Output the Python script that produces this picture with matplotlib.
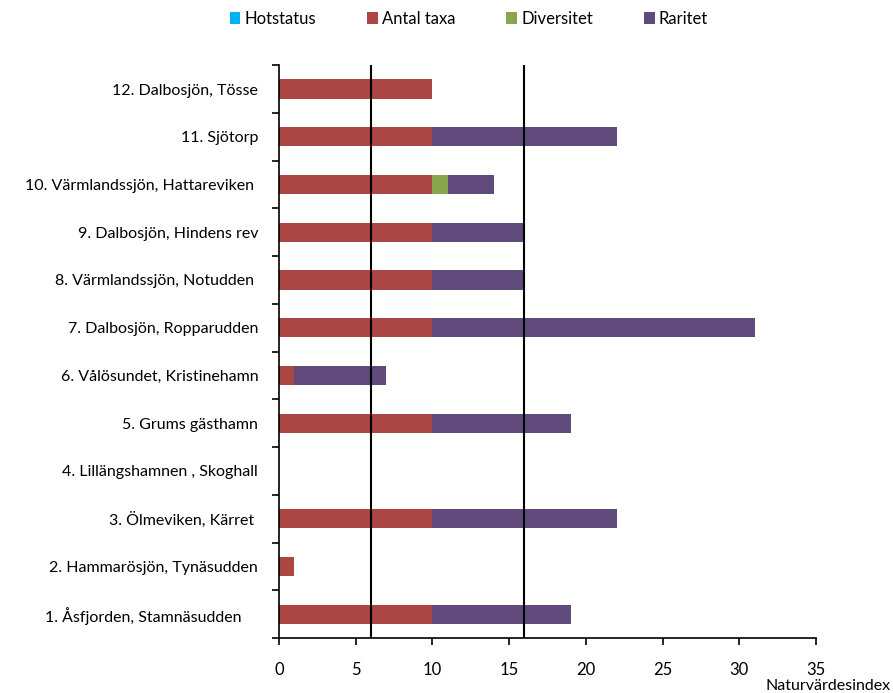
import matplotlib.pyplot as plt
import numpy as np

plt.rcParams["font.family"] = ["Lato", "DejaVu Sans"]

sites = [
    "1. Åsfjorden, Stamnäsudden    ",
    "2. Hammarösjön, Tynäsudden",
    "3. Ölmeviken, Kärret ",
    "4. Lillängshamnen , Skoghall",
    "5. Grums gästhamn",
    "6. Vålösundet, Kristinehamn",
    "7. Dalbosjön, Ropparudden",
    "8. Värmlandssjön, Notudden ",
    "9. Dalbosjön, Hindens rev",
    "10. Värmlandssjön, Hattareviken ",
    "11. Sjötorp",
    "12. Dalbosjön, Tösse",
]
hotstatus = [0, 0, 0, 0, 0, 0, 0, 0, 0, 0, 0, 0]
antal_taxa = [10, 1, 10, 0, 10, 1, 10, 10, 10, 10, 10, 10]
diversitet = [0, 0, 0, 0, 0, 0, 0, 0, 0, 1, 0, 0]
raritet = [9, 0, 12, 0, 9, 6, 21, 6, 6, 3, 12, 0]
thresholds = [6, 16]

series = [
    ("Hotstatus", hotstatus, "#00B0F0"),
    ("Antal taxa", antal_taxa, "#AA4643"),
    ("Diversitet", diversitet, "#89A54E"),
    ("Raritet", raritet, "#604A7B"),
]

fig = plt.figure(figsize=(8.93, 6.93), dpi=100)
ax = fig.add_axes([0.3124, 0.0794, 0.6014, 0.8266])

y = np.arange(len(sites))
left = np.zeros(len(sites))
for name, vals, col in series:
    vals = np.array(vals, dtype=float)
    ax.barh(y, vals, left=left, height=0.4, color=col, label=name, zorder=2)
    left += vals

for t in thresholds:
    ax.axvline(t, color="black", lw=1.5, zorder=3)

ax.set_xlim(0, 35)
ax.set_ylim(-0.5, len(sites) - 0.5)
ax.set_xticks(np.arange(0, 36, 5))
ax.set_yticks(y)
ax.set_yticklabels(sites, fontsize=11.5)
ax.set_yticks(np.arange(-0.5, len(sites), 1), minor=True)
ax.tick_params(axis="y", which="major", length=0, pad=15)
ax.tick_params(axis="y", which="minor", length=5, width=1.2, direction="out")
ax.tick_params(axis="x", length=5, width=1.2, direction="out", pad=12, labelsize=12)

for s in ["top", "right"]:
    ax.spines[s].set_visible(False)
for s in ["left", "bottom"]:
    ax.spines[s].set_linewidth(1.2)

ax.set_xlabel("Naturvärdesindex", fontsize=11.5, ha="right", va="center")
ax.xaxis.set_label_coords(1.138, -0.084)

fig.legend(loc="upper center", bbox_to_anchor=(0.525, 1.006), ncol=4, frameon=False,
           fontsize=12, handlelength=0.65, handleheight=0.65, handletextpad=0.25,
           columnspacing=3.05)

fig.savefig("out.png", dpi=100)
